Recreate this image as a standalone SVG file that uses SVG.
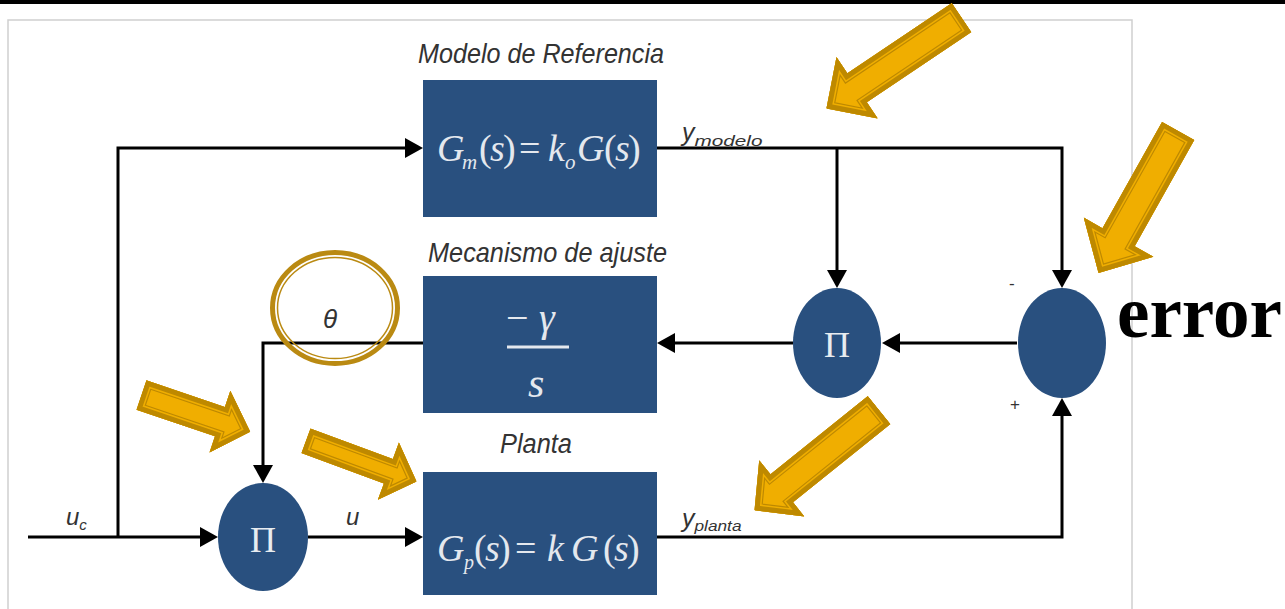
<svg xmlns="http://www.w3.org/2000/svg" xmlns:xlink="http://www.w3.org/1999/xlink" width="1285" height="609" viewBox="0 0 1285 609">
<style>
.box{fill:#29507f}
.sum{fill:#29507f}
.lbl{font-family:"Liberation Sans",Arial,sans-serif;font-style:italic;fill:#333}
.math{font-family:"Liberation Serif","Times New Roman",serif;fill:#e4e8ee}
.it{font-style:italic}
.pi{font-family:"Liberation Serif","Times New Roman",serif;fill:#e8ecf0;font-size:36px;text-anchor:middle}
.wire{fill:none;stroke:#000;stroke-width:3}
.af{fill:#F0AE00}
.b1{fill:none;stroke:#BE8900;stroke-width:15.4;stroke-linejoin:miter;stroke-miterlimit:10}
.b2{fill:none;stroke:#F0AE00;stroke-width:13;stroke-linejoin:miter;stroke-miterlimit:10}
.b3{fill:none;stroke:#BE8900;stroke-width:10;stroke-linejoin:miter;stroke-miterlimit:10}
.sign{font-family:"Liberation Sans",Arial,sans-serif;font-size:17px;fill:#333}
</style>
<defs>
<marker id="ah" viewBox="0 0 18 20" refX="10" refY="10" markerWidth="18" markerHeight="20" markerUnits="userSpaceOnUse" orient="auto">
<path d="M0,0 L18,10 L0,20 z" fill="#000"/>
</marker>
<polygon id="pA" points="0,-17.5 126,-17.5 126,-37 163,0 126,37 126,17.5 0,17.5"/>
<polygon id="pB" points="0,-18.5 122,-18.5 122,-40 163,0 122,40 122,18.5 0,18.5"/>
<polygon id="pC" points="0,-18 125,-18 125,-36 160,0 125,36 125,18 0,18"/>
<polygon id="pD" points="0,-15.5 83,-15.5 83,-32.5 115,0 83,32.5 83,15.5 0,15.5"/>
<polygon id="pE" points="0,-13 88,-13 88,-30.5 118,0 88,30.5 88,13 0,13"/>
<clipPath id="cA"><use xlink:href="#pA"/></clipPath>
<clipPath id="cB"><use xlink:href="#pB"/></clipPath>
<clipPath id="cC"><use xlink:href="#pC"/></clipPath>
<clipPath id="cD"><use xlink:href="#pD"/></clipPath>
<clipPath id="cE"><use xlink:href="#pE"/></clipPath>
</defs>
<rect x="0" y="0" width="1285" height="609" fill="#fff"/>
<rect x="8" y="20" width="1124" height="620" fill="none" stroke="#cfcfcf" stroke-width="1.5"/>
<rect x="0" y="0" width="1285" height="4" fill="#000"/>

<g id="connectors">
<path class="wire" d="M28,537 H210" marker-end="url(#ah)"/>
<path class="wire" d="M118,537 V148 H415" marker-end="url(#ah)"/>
<path class="wire" d="M308,537 H415" marker-end="url(#ah)"/>
<path class="wire" d="M657,537 H1062 V406" marker-end="url(#ah)"/>
<path class="wire" d="M657,148 H1062 V280" marker-end="url(#ah)"/>
<path class="wire" d="M837,148 V280" marker-end="url(#ah)"/>
<path class="wire" d="M1017,343 H890" marker-end="url(#ah)"/>
<path class="wire" d="M793,343 H665" marker-end="url(#ah)"/>
<path class="wire" d="M423,343 H263 V475" marker-end="url(#ah)"/>
</g>

<g id="node-modelo">
<text class="lbl" x="418" y="63" font-size="28" textLength="246" lengthAdjust="spacingAndGlyphs">Modelo de Referencia</text>
<rect class="box" x="423" y="80" width="234" height="137"/>
<text class="math" font-size="38" y="161"><tspan class="it" x="437">G</tspan><tspan class="it" x="462" y="169" font-size="21">m</tspan><tspan x="479" y="161">(</tspan><tspan class="it" x="490">s</tspan><tspan x="503">)</tspan><tspan x="519">=</tspan><tspan class="it" x="548">k</tspan><tspan class="it" x="565" y="169" font-size="21">o</tspan><tspan class="it" x="577" y="161">G</tspan><tspan x="604">(</tspan><tspan class="it" x="615">s</tspan><tspan x="628">)</tspan></text>
</g>

<g id="node-mecanismo">
<text class="lbl" x="428" y="262" font-size="28" textLength="239" lengthAdjust="spacingAndGlyphs">Mecanismo de ajuste</text>
<rect class="box" x="423" y="276" width="234" height="137"/>
<text class="math" font-size="40" x="506" y="331">−<tspan class="it" x="539">γ</tspan></text>
<line x1="507" y1="347" x2="569" y2="347" stroke="#e4e8ee" stroke-width="3"/>
<text class="math it" font-size="42" x="528" y="397">s</text>
</g>

<g id="node-planta">
<text class="lbl" x="500" y="453" font-size="27" textLength="72" lengthAdjust="spacingAndGlyphs">Planta</text>
<rect class="box" x="423" y="472" width="234" height="123"/>
<text class="math" font-size="38" y="561"><tspan class="it" x="437">G</tspan><tspan class="it" x="464" y="569" font-size="20">p</tspan><tspan x="474" y="561">(</tspan><tspan class="it" x="485">s</tspan><tspan x="498">)</tspan><tspan x="515">=</tspan><tspan class="it" x="547">k</tspan><tspan class="it" x="571">G</tspan><tspan x="603">(</tspan><tspan class="it" x="614">s</tspan><tspan x="627">)</tspan></text>
</g>

<g id="node-mult1">
<ellipse class="sum" cx="263" cy="537" rx="45" ry="54"/>
<text class="pi" x="263" y="552">Π</text>
</g>

<g id="node-mult2">
<ellipse class="sum" cx="837" cy="343" rx="44" ry="55"/>
<text class="pi" x="837" y="357">Π</text>
</g>

<g id="node-sum">
<ellipse class="sum" cx="1062" cy="343" rx="44" ry="55"/>
<text class="sign" x="1009" y="289">-</text>
<text class="sign" x="1010" y="410">+</text>
</g>

<g id="labels">
<text class="lbl" x="66" y="525" font-size="24">u<tspan font-size="15" dy="5">c</tspan></text>
<text class="lbl" x="346" y="525" font-size="24">u</text>
<text class="lbl" x="323" y="328" font-size="26">θ</text>
<text class="lbl" x="682" y="141" font-size="25">y<tspan font-size="14" dy="5" textLength="68" lengthAdjust="spacingAndGlyphs">modelo</tspan></text>
<text class="lbl" x="682" y="527" font-size="25">y<tspan font-size="14" dy="4" textLength="47" lengthAdjust="spacingAndGlyphs">planta</tspan></text>
<text x="1117" y="337" font-family="'Liberation Serif','Times New Roman',serif" font-weight="bold" font-size="73" fill="#000">error</text>
</g>

<g id="highlights">
<ellipse cx="335" cy="308" rx="62.5" ry="55.5" fill="none" stroke="#BA8A12" stroke-width="5"/>
<ellipse cx="335" cy="308" rx="57.5" ry="50.5" fill="none" stroke="#BA8A12" stroke-width="1.5"/>
<g transform="translate(961.7,17.5) rotate(146.1)"><g clip-path="url(#cA)"><use xlink:href="#pA" class="af"/><use xlink:href="#pA" class="b1"/><use xlink:href="#pA" class="b2"/><use xlink:href="#pA" class="b3"/></g></g>
<g transform="translate(1178.3,130.8) rotate(119.3)"><g clip-path="url(#cB)"><use xlink:href="#pB" class="af"/><use xlink:href="#pB" class="b1"/><use xlink:href="#pB" class="b2"/><use xlink:href="#pB" class="b3"/></g></g>
<g transform="translate(879.2,410) rotate(141.2)"><g clip-path="url(#cC)"><use xlink:href="#pC" class="af"/><use xlink:href="#pC" class="b1"/><use xlink:href="#pC" class="b2"/><use xlink:href="#pC" class="b3"/></g></g>
<g transform="translate(141.3,395) rotate(18.7)"><g clip-path="url(#cD)"><use xlink:href="#pD" class="af"/><use xlink:href="#pD" class="b1"/><use xlink:href="#pD" class="b2"/><use xlink:href="#pD" class="b3"/></g></g>
<g transform="translate(305.8,440.8) rotate(20.2)"><g clip-path="url(#cE)"><use xlink:href="#pE" class="af"/><use xlink:href="#pE" class="b1"/><use xlink:href="#pE" class="b2"/><use xlink:href="#pE" class="b3"/></g></g>
</g>
</svg>
